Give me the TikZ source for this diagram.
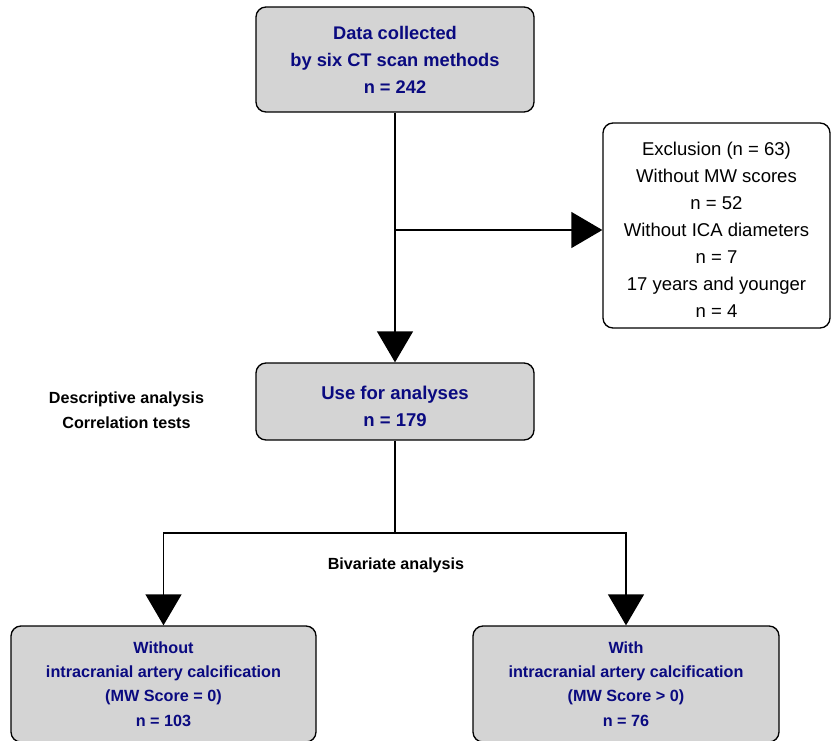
\documentclass[tikz,border=0pt]{standalone}
\usepackage{fontspec}
\setmainfont{Liberation Sans}
\usetikzlibrary{arrows.meta}
\definecolor{boxgray}{RGB}{212,212,212}
\definecolor{boxblue}{RGB}{10,10,128}

\tikzset{
	flowbox/.style={draw, line width=1pt, rounded corners=7.5pt, align=center, inner sep=0pt},
	graybox/.style={flowbox, fill=boxgray, text=boxblue, font=\bfseries},
	whitebox/.style={flowbox, fill=white, text=black},
	bigarrow/.style={line width=1pt, -{Triangle[length=23.25pt,width=27pt]}},
	sidetext/.style={align=center, font=\bfseries\fontsize{12.1}{18.75}\selectfont}
}

\begin{document}
\begin{tikzpicture}[x=0.75pt, y=-0.75pt]
			\useasboundingbox (0,0) rectangle (832,740);

			\node[graybox, minimum width=208.5pt, minimum height=78.75pt, font=\bfseries\fontsize{13.7}{20.25}\selectfont] (data) at (395,59.5)
				{Data collected\\by six CT scan methods\\n = 242};
			\node[whitebox, minimum width=170.25pt, minimum height=153.75pt, font=\fontsize{13.9}{20.25}\selectfont] (excl) at (716.5,225.5)
				{\rule{0pt}{17pt}Exclusion (n = 63)\\Without MW scores\\n = 52\\Without ICA diameters\\n = 7\\17 years and younger\\n = 4};
			\node[graybox, minimum width=208.5pt, minimum height=57.75pt, font=\bfseries\fontsize{13.9}{20.25}\selectfont] (use) at (395,401.5)
				{\rule{0pt}{17pt}Use for analyses\\n = 179};

			\node[graybox, minimum width=228.75pt, minimum height=87pt, font=\bfseries\fontsize{12.15}{18.2}\selectfont] (noica) at (163.5,684)
				{Without\\intracranial artery calcification\\(MW Score = 0)\\n = 103};
			\node[graybox, minimum width=229.5pt, minimum height=87pt, font=\bfseries\fontsize{12.15}{18.2}\selectfont] (ica) at (626,684)
				{With\\intracranial artery calcification\\(MW Score > 0)\\n = 76};

			\node[sidetext] (desc) at (126.5,410) {Descriptive analysis\\Correlation tests};
			\node[sidetext] (biv) at (396,565) {Bivariate analysis};

			% exclusion branch
			\coordinate (j) at (395,230);
			\draw[bigarrow] (data) -- (use);
			\draw[bigarrow] (j) -- (j -| excl.west);

			% split into the two groups
			\coordinate (split) at (395,533);
			\draw[line width=1pt] (use) -- (split);
			\draw[bigarrow] (split) -| (noica);
			\draw[bigarrow] (split) -| (ica);
		\end{tikzpicture}
\end{document}
